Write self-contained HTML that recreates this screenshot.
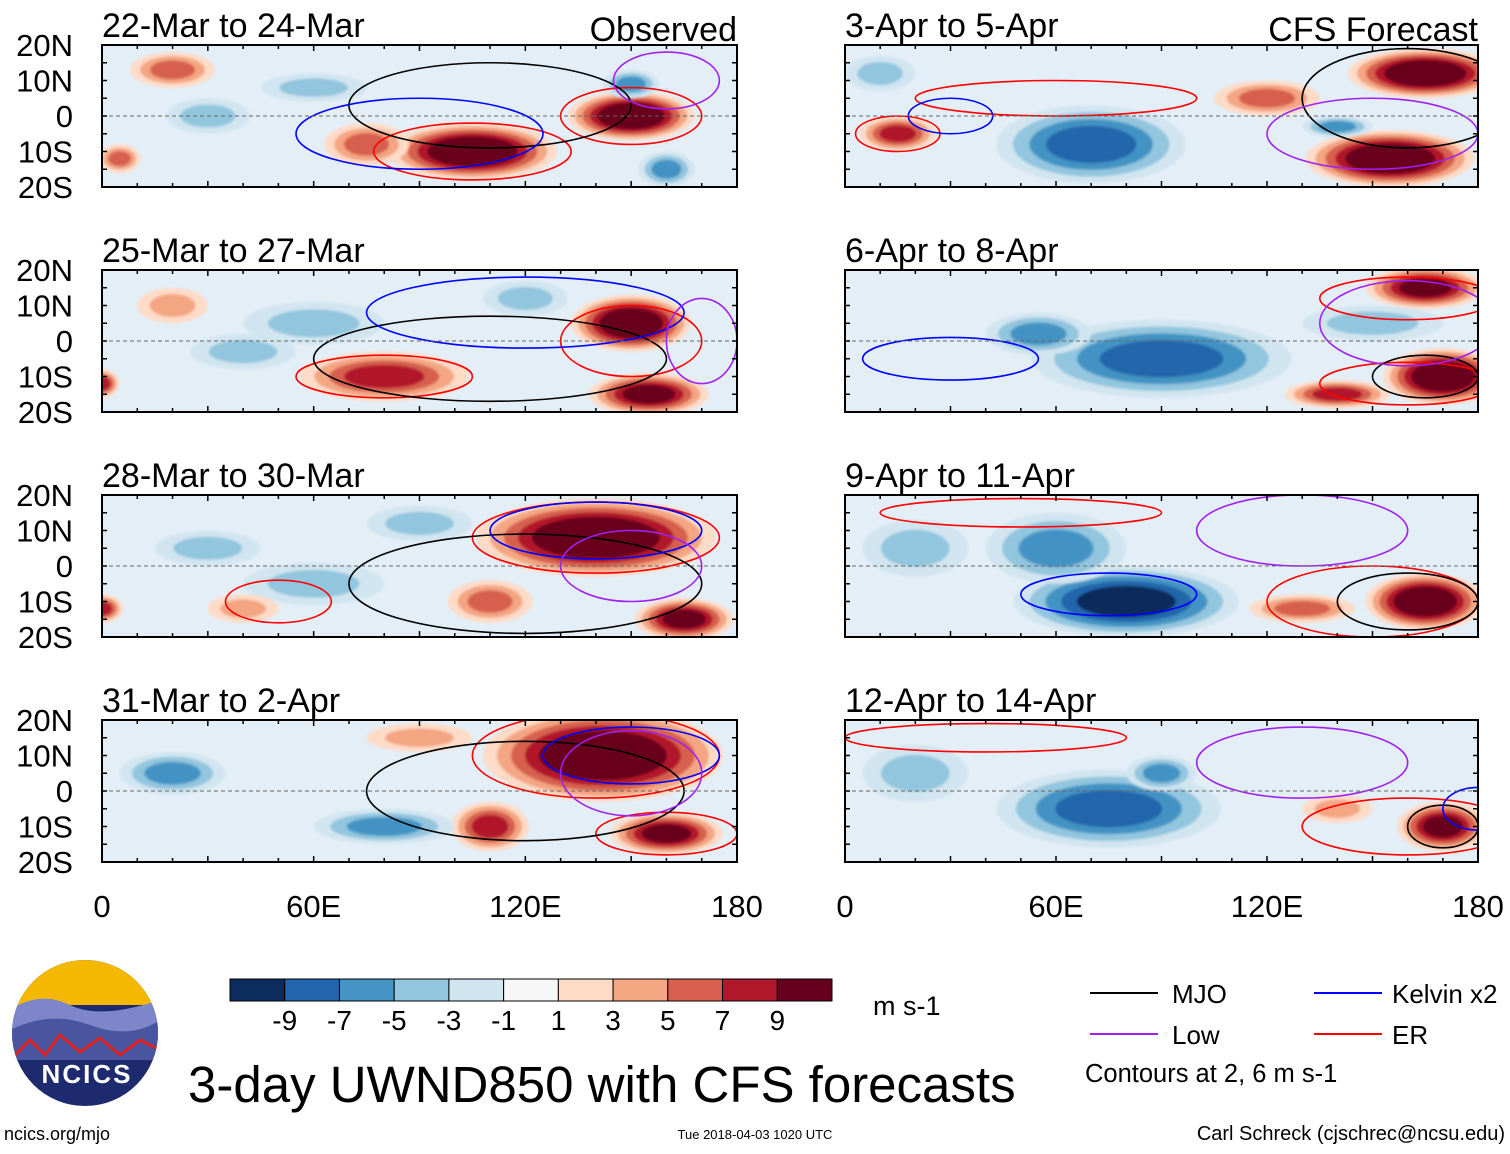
<!DOCTYPE html>
<html><head><meta charset="utf-8">
<style>
body{margin:0;background:#fff;width:1510px;height:1149px;overflow:hidden;font-family:"Liberation Sans",sans-serif;}
svg text{font-family:"Liberation Sans",sans-serif;}
</style></head>
<body>
<svg id="fig" width="1510" height="1149" viewBox="0 0 1510 1149" xmlns="http://www.w3.org/2000/svg">
<defs>
<filter id="soft" x="-10%" y="-10%" width="120%" height="120%"><feGaussianBlur stdDeviation="1.2"/></filter>
</defs>
<g id="panels"></g>
<g id="static">
  <g id="cbar"></g>
  <text x="873" y="1015" font-size="27">m s-1</text>
  <g>
    <line x1="1090" y1="993" x2="1158" y2="993" stroke="#000" stroke-width="2"/>
    <text x="1172" y="1003" font-size="26">MJO</text>
    <line x1="1314" y1="993" x2="1382" y2="993" stroke="#0000ff" stroke-width="2"/>
    <text x="1392" y="1003" font-size="26">Kelvin x2</text>
    <line x1="1090" y1="1034" x2="1158" y2="1034" stroke="#a020f0" stroke-width="2"/>
    <text x="1172" y="1044" font-size="26">Low</text>
    <line x1="1314" y1="1034" x2="1382" y2="1034" stroke="#ff0000" stroke-width="2"/>
    <text x="1392" y="1044" font-size="26">ER</text>
    <text x="1085" y="1082" font-size="25.5">Contours at 2, 6 m s-1</text>
  </g>
  <g>
    <clipPath id="lc"><circle cx="85" cy="1033" r="73"/></clipPath>
    <g clip-path="url(#lc)">
      <rect x="10" y="960" width="150" height="150" fill="#1e2a6e"/>
      <rect x="10" y="960" width="150" height="45" fill="#f5b800"/>
      <path d="M10 1010 Q40 990 70 1005 T160 1000 L160 1040 L10 1040Z" fill="#7d86c8"/>
      <path d="M10 1030 Q50 1010 90 1025 T160 1020 L160 1060 L10 1060Z" fill="#4a559f"/>
      <path d="M10 1060 L30 1040 L45 1055 L60 1035 L80 1052 L100 1038 L120 1055 L140 1040 L160 1050" stroke="#e02020" stroke-width="3" fill="none"/>
    </g>
    <text x="87" y="1083" font-size="26" font-weight="bold" fill="#fff" text-anchor="middle" letter-spacing="2">NCICS</text>
  </g>
  <text x="188" y="1102" font-size="51">3-day UWND850 with CFS forecasts</text>
  <text x="4" y="1140" font-size="18">ncics.org/mjo</text>
  <text x="755" y="1139" font-size="13" text-anchor="middle">Tue 2018-04-03 1020 UTC</text>
  <text x="1505" y="1140" font-size="20" text-anchor="end">Carl Schreck (cjschrec@ncsu.edu)</text>
</g>
</svg>
<script>
// ---- data ----
const panelTitles = ["22-Mar to 24-Mar","25-Mar to 27-Mar","28-Mar to 30-Mar","31-Mar to 2-Apr","3-Apr to 5-Apr","6-Apr to 8-Apr","9-Apr to 11-Apr","12-Apr to 14-Apr"];
const latTicks = [20,10,0,-10,-20];
const latLabels = ["20N","10N","0","10S","20S"];
const lonTicks = [0,60,120,180];
const lonLabels = ["0","60E","120E","180"];
const cbarLevels = [-9,-7,-5,-3,-1,1,3,5,7,9];
const cbarColors = ["#0b2c5c","#2166ac","#4393c3","#92c5de","#d1e5f0","#f7f7f7","#fddbc7","#f4a582","#d6604d","#b2182b","#67001f"];
// anomaly blobs per panel: [lon, lat, halfWidthLon, halfHeightLat, peak m/s]
const blobs0 = [[105,-10,24,8,11],[150,0,18,7,11],[20,13,12,5,5],[75,-8,12,6,5],[160,-15,8,5,-5],[150,9,8,4,-5],[30,0,12,5,-3],[60,8,15,4,-3],[5,-12,6,4,5]];
const blobs1 = [[150,5,17,8,11],[155,-15,17,6,9],[80,-10,24,7,7],[0,-12,5,4,7],[60,5,20,6,-3],[40,-3,15,5,-3],[120,12,12,5,-3],[20,10,10,5,3]];
const blobs2 = [[140,8,34,11,11],[165,-15,14,6,9],[110,-10,12,6,5],[0,-12,6,4,7],[90,12,15,5,-3],[60,-5,20,6,-3],[30,5,15,5,-3],[40,-12,10,4,3]];
const blobs3 = [[142,10,34,13,11],[160,-12,16,6,9],[110,-10,11,7,7],[80,-10,20,5,-5],[20,5,15,6,-5],[90,15,15,4,3]];
const blobs4 = [[165,12,22,7,11],[155,-12,24,8,11],[120,5,15,5,5],[15,-5,11,5,7],[70,-8,27,11,-7],[140,-3,10,3,-5],[10,12,10,5,-3]];
const blobs5 = [[170,-10,17,8,11],[165,15,17,6,9],[140,-15,15,4,7],[90,-5,37,11,-7],[55,2,15,6,-5],[150,5,20,5,-3]];
const blobs6 = [[165,-10,17,8,11],[130,-12,15,4,5],[80,-10,32,10,-9],[60,5,20,10,-5],[20,5,15,8,-3]];
const blobs7 = [[170,-10,13,7,9],[140,-5,10,4,3],[75,-5,32,11,-7],[90,5,10,5,-5],[20,5,15,8,-3]];
const allBlobs = [blobs0,blobs1,blobs2,blobs3,blobs4,blobs5,blobs6,blobs7];
// contours: [type, lon, lat, halfWidthLon, halfHeightLat]
const cont0 = [["er",105,-10,28,8],["er",150,0,20,8],["mjo",110,3,40,12],["kel",90,-5,35,10],["low",160,10,15,8]];
const cont1 = [["er",80,-10,25,6],["er",150,0,20,10],["mjo",110,-5,50,12],["kel",120,8,45,10],["low",170,0,10,12]];
const cont2 = [["er",140,8,35,10],["er",50,-10,15,6],["mjo",120,-5,50,14],["kel",140,10,30,8],["low",150,0,20,10]];
const cont3 = [["er",140,10,35,12],["er",160,-12,20,6],["mjo",120,0,45,14],["kel",150,10,25,8],["low",150,5,20,12]];
const cont4 = [["er",60,5,40,5],["er",15,-5,12,5],["mjo",160,5,30,14],["kel",30,0,12,5],["low",150,-5,30,10]];
const cont5 = [["er",160,12,25,6],["er",160,-12,25,6],["mjo",165,-10,15,6],["kel",30,-5,25,6],["low",160,5,25,12]];
const cont6 = [["er",150,-10,30,10],["er",50,15,40,4],["mjo",160,-10,20,8],["kel",75,-8,25,6],["low",130,10,30,10]];
const cont7 = [["er",160,-10,30,8],["er",40,15,40,4],["mjo",170,-10,10,6],["kel",180,-5,10,6],["low",130,8,30,10]];
const allCont = [cont0,cont1,cont2,cont3,cont4,cont5,cont6,cont7];
const contColor = {er:"#ff0000",mjo:"#000000",kel:"#0000ff",low:"#a020f0"};

// ---- layout ----
const NS = "http://www.w3.org/2000/svg";
const colX = [102,845], colW = [635,633];
const rowY = [45,270,495,720], panelH = 142;
function mk(tag, attrs, parent){const e=document.createElementNS(NS,tag);for(const k in attrs)e.setAttribute(k,attrs[k]);parent.appendChild(e);return e;}
function colorFor(v){let i=0;while(i<cbarLevels.length && v>cbarLevels[i])i++;return cbarColors[i];}

const root = document.getElementById("panels");
for(let p=0;p<8;p++){
  const c = p<4?0:1, r = p%4;
  const x0=colX[c], w=colW[c], y0=rowY[r];
  const xs = lon => x0 + lon/180*w;
  const ys = lat => y0 + (20-lat)/40*panelH;
  const g = mk("g",{},root);
  
  
  const cid="clip"+p;
  const cp=mk("clipPath",{id:cid},g); mk("rect",{x:x0,y:y0,width:w,height:panelH},cp);
  const inner=mk("g",{"clip-path":"url(#"+cid+")"},g);
  mk("rect",{x:x0,y:y0,width:w,height:panelH,fill:"#e4eef6"},inner);
  const fill=mk("g",{filter:"url(#soft)"},inner);
  allBlobs[p].forEach(b=>{
    const [lon,lat,hw,hh,v]=b;
    const steps=[];
    const s=Math.sign(v);
    for(let lev=1;lev<=Math.abs(v);lev+=2) steps.push(lev);
    steps.forEach((lev,i)=>{
      const f=1-(i/(steps.length))*0.7;
      const e=mk("ellipse",{cx:xs(lon),cy:ys(lat),rx:hw/180*w*f,ry:hh/40*panelH*f,fill:colorFor(s*(lev+1))},fill);
      
      
    });
  });
  allCont[p].forEach(cn=>{
    const [t,lon,lat,hw,hh]=cn;
    const e=mk("ellipse",{cx:xs(lon),cy:ys(lat),rx:hw/180*w,ry:hh/40*panelH,fill:"none",stroke:contColor[t],"stroke-width":1.6},inner);
    
    
  });
  mk("line",{x1:x0,y1:ys(0),x2:x0+w,y2:ys(0),stroke:"#666","stroke-width":1,"stroke-dasharray":"4 3"},inner);
  const fr=mk("rect",{x:x0,y:y0,width:w,height:panelH,fill:"none",stroke:"#000","stroke-width":2},g);
  
  
  for(let lon=0;lon<=180;lon+=10){
    const L=lon%30===0?6:4;
    mk("line",{x1:xs(lon),y1:y0,x2:xs(lon),y2:y0+L,stroke:"#000","stroke-width":1.5},g);
    mk("line",{x1:xs(lon),y1:y0+panelH,x2:xs(lon),y2:y0+panelH-L,stroke:"#000","stroke-width":1.5},g);
  }
  for(let lat=-20;lat<=20;lat+=5){
    mk("line",{x1:x0,y1:ys(lat),x2:x0+5,y2:ys(lat),stroke:"#000","stroke-width":1.5},g);
    mk("line",{x1:x0+w,y1:ys(lat),x2:x0+w-5,y2:ys(lat),stroke:"#000","stroke-width":1.5},g);
  }
  const t=mk("text",{x:x0,y:y0-8,"font-size":34},g); t.textContent=panelTitles[p];
  
  
  if(p===0||p===4){
    const h=mk("text",{x:x0+w,y:y0-4,"font-size":34,"text-anchor":"end"},g);
    h.textContent = p===0?"Observed":"CFS Forecast";
    
    
  }
  if(c===0){
    latTicks.forEach((lat,i)=>{
      const tl=mk("text",{x:73,y:ys(lat)+11,"font-size":31,"text-anchor":"end"},g); tl.textContent=latLabels[i];
      
      
    });
  }
  if(r===3){
    lonTicks.forEach((lon,i)=>{
      const tl=mk("text",{x:xs(lon),y:917,"font-size":31,"text-anchor":"middle"},g); tl.textContent=lonLabels[i];
      
      
    });
  }
}
const cb=document.getElementById("cbar");
const cbx=230, cbw=602, cby=979, cbh=22, bw=cbw/cbarColors.length;
cbarColors.forEach((col,i)=>{
  const r=mk("rect",{x:cbx+i*bw,y:cby,width:bw,height:cbh,fill:col,stroke:"#000","stroke-width":1},cb);
  
  
});
cbarLevels.forEach((lv,i)=>{
  const t=mk("text",{x:cbx+(i+1)*bw,y:1030,"font-size":28,"text-anchor":"middle"},cb); t.textContent=(lv<0?"-":"")+Math.abs(lv);
  
  
});
</script>
</body></html>
